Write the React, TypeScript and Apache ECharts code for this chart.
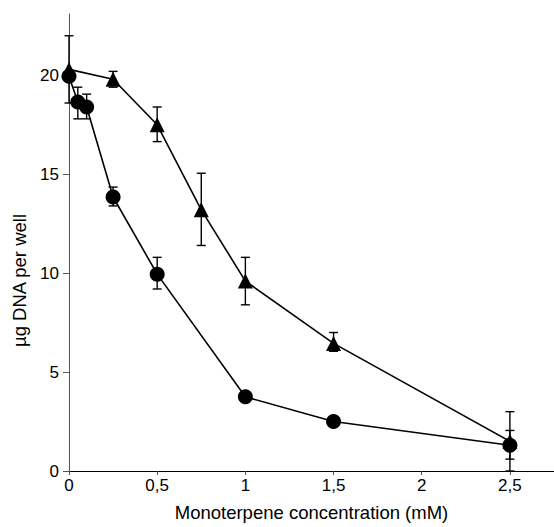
import React, { useEffect, useRef } from "react";
import * as echarts from "echarts";

const xCircle = [0, 0.05, 0.1, 0.25, 0.5, 1, 1.5, 2.5];
const yCircle = [19.95, 18.65, 18.4, 13.85, 9.95, 3.75, 2.5, 1.3];
const errCircleLow = [19.95, 17.8, 17.8, 13.4, 9.2, 3.5, 2.5, 0.6];
const errCircleHigh = [19.95, 19.4, 19.05, 14.35, 10.8, 4.0, 2.5, 2.05];

const xTriangle = [0, 0.25, 0.5, 0.75, 1, 1.5, 2.5];
const yTriangle = [20.3, 19.8, 17.5, 13.2, 9.6, 6.45, 1.5];
const errTriangleLow = [18.6, 19.4, 16.65, 11.4, 8.4, 6.05, 0.0];
const errTriangleHigh = [22.0, 20.2, 18.4, 15.05, 10.8, 7.0, 3.0];

const xTicks = [0, 0.5, 1, 1.5, 2, 2.5];
const yTicks = [0, 5, 10, 15, 20];

export default function App() {
  const ref = useRef<HTMLDivElement>(null);
  useEffect(() => {
    if (!ref.current) return;
    const chart = echarts.init(ref.current, null, { renderer: "svg" });
    const errData: number[][] = [];
    xCircle.forEach((x, i) => {
      if (errCircleHigh[i] > errCircleLow[i]) errData.push([x, errCircleLow[i], errCircleHigh[i]]);
    });
    xTriangle.forEach((x, i) => {
      if (errTriangleHigh[i] > errTriangleLow[i]) errData.push([x, errTriangleLow[i], errTriangleHigh[i]]);
    });
    const font = "'Liberation Sans', Arial, sans-serif";
    chart.setOption({
      animation: false,
      grid: { left: 69, right: 0, top: 14, bottom: 51 },
      xAxis: [
        {
          type: "value",
          min: 0,
          max: 2.75,
          interval: 0.5,
          name: "Monoterpene concentration (mM)",
          nameLocation: "middle",
          nameGap: 32,
          nameTextStyle: { fontFamily: font, fontSize: 18.5, color: "#000" },
          axisLine: { show: true, onZero: false, lineStyle: { color: "#555", width: 1 } },
          axisTick: { show: true, length: 4, lineStyle: { color: "#555" } },
          splitLine: { show: false },
          axisLabel: {
            fontFamily: font,
            fontSize: 17,
            color: "#000",
            margin: 6,
            showMaxLabel: false,
            formatter: (v: number) =>
              xTicks.some((t) => Math.abs(t - v) < 1e-6) ? String(v).replace(".", ",") : "",
          },
        },
        {
          type: "value",
          position: "top",
          min: 0,
          max: 2.75,
          axisLine: { show: true, lineStyle: { color: "#000", width: 1 } },
          axisTick: { show: false },
          axisLabel: { show: false },
          splitLine: { show: false },
        },
      ],
      yAxis: {
        type: "value",
        min: 0,
        max: 23.1,
        interval: 5,
        name: "µg DNA per well",
        nameLocation: "middle",
        nameGap: 32,
        nameTextStyle: { fontFamily: font, fontSize: 18.5, color: "#000", padding: [0, 76, 0, 0] },
        axisLine: { show: true, lineStyle: { color: "#555", width: 1 } },
        axisTick: { show: true, length: 6, lineStyle: { color: "#555" } },
        splitLine: { show: false },
        axisLabel: {
          fontFamily: font,
          fontSize: 17,
          color: "#000",
          margin: 10,
          showMaxLabel: false,
          formatter: (v: number) => (yTicks.includes(v) ? String(v) : ""),
        },
      },
      series: [
        {
          type: "custom",
          data: errData,
          z: 1,
          renderItem: (params: any, api: any) => {
            const x = api.value(0);
            const lo = api.coord([x, api.value(1)]);
            const hi = api.coord([x, api.value(2)]);
            const w = 4.5;
            const style = { stroke: "#000", lineWidth: 1.4 };
            return {
              type: "group",
              children: [
                { type: "line", shape: { x1: lo[0], y1: lo[1], x2: hi[0], y2: hi[1] }, style },
                { type: "line", shape: { x1: lo[0] - w, y1: lo[1], x2: lo[0] + w, y2: lo[1] }, style },
                { type: "line", shape: { x1: hi[0] - w, y1: hi[1], x2: hi[0] + w, y2: hi[1] }, style },
              ],
            };
          },
        },
        {
          type: "line",
          name: "circle",
          data: xCircle.map((x, i) => [x, yCircle[i]]),
          symbol: "circle",
          symbolSize: 15,
          itemStyle: { color: "#000" },
          lineStyle: { color: "#000", width: 1.6 },
          z: 3,
        },
        {
          type: "line",
          name: "triangle",
          data: xTriangle.map((x, i) => [x, yTriangle[i]]),
          symbol: "triangle",
          symbolSize: 15,
          itemStyle: { color: "#000" },
          lineStyle: { color: "#000", width: 1.6 },
          z: 3,
        },
      ],
    });
    return () => chart.dispose();
  }, []);
  return <div ref={ref} style={{ width: 554, height: 527, position: "absolute", left: 0, top: 0 }} />;
}
